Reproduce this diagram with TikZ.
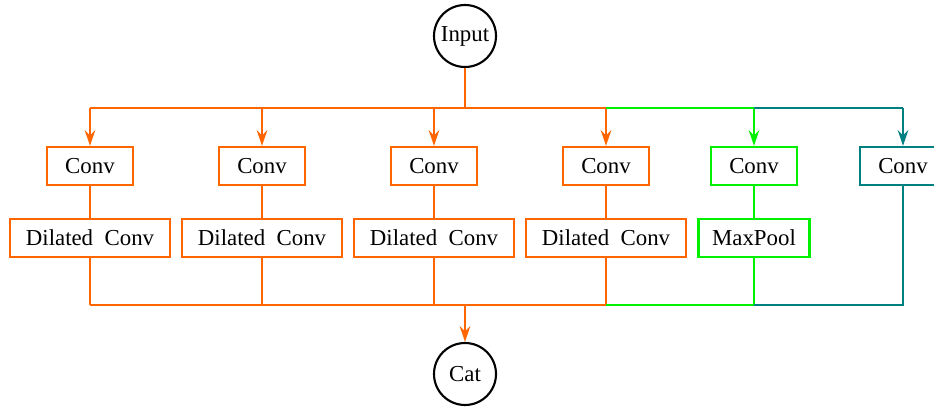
\documentclass[tikz,border=0pt]{standalone}
\usepackage{fontspec}
\setmainfont{Liberation Serif}
\usetikzlibrary{arrows.meta}

\definecolor{branchA}{RGB}{255,102,0}
\definecolor{branchB}{RGB}{0,240,0}
\definecolor{branchC}{RGB}{0,128,128}

\begin{document}
\begin{tikzpicture}[>={Stealth[length=9pt,width=6pt,inset=3pt]},
  every node/.style={font=\fontsize{13}{15}\selectfont},
  lay/.style={draw,line width=1.2pt,minimum height=0.76cm,inner sep=2pt},
  io/.style={draw,circle,line width=1.2pt,minimum size=1.24cm,inner sep=0pt},
  wire/.style={line width=1.2pt}]
\useasboundingbox (0,0) rectangle (18.68,8.2);

\node[io] (in) at (9.3,7.48) {Input};
\node[io] (cat) at (9.3,0.72) {Cat};

\coordinate (top) at (9.3,6.04);
\coordinate (bot) at (9.3,2.1);

\node[lay,branchA,minimum width=1.72cm,text=black] (c1) at (1.8,4.88) {Conv};
\node[lay,branchA,minimum width=1.72cm,text=black] (c2) at (5.24,4.88) {Conv};
\node[lay,branchA,minimum width=1.72cm,text=black] (c3) at (8.68,4.88) {Conv};
\node[lay,branchA,minimum width=1.72cm,text=black] (c4) at (12.12,4.88) {Conv};
\node[lay,branchB,minimum width=1.72cm,text=black] (c5) at (15.08,4.88) {Conv};
\node[lay,branchC,minimum width=1.72cm,text=black] (c6) at (18.06,4.88) {Conv};

\node[lay,branchA,minimum width=3.2cm,text=black] (d1) at (1.8,3.44) {Dilated~~Conv};
\node[lay,branchA,minimum width=3.2cm,text=black] (d2) at (5.24,3.44) {Dilated~~Conv};
\node[lay,branchA,minimum width=3.2cm,text=black] (d3) at (8.68,3.44) {Dilated~~Conv};
\node[lay,branchA,minimum width=3.2cm,text=black] (d4) at (12.12,3.44) {Dilated~~Conv};
\node[lay,branchB,minimum width=2.22cm,text=black] (mp) at (15.08,3.44) {MaxPool};

% fan out
\draw[wire,branchA] (in) -- (top);
\draw[wire,branchA] (c1 |- top) -- (c4 |- top);
\foreach \c in {c1,c2,c3,c4}
  \draw[wire,branchA,->] (\c |- top) -- (\c);
\draw[wire,branchB] (c4 |- top) -- (c5 |- top);
\draw[wire,branchB,->] (c5 |- top) -- (c5);
\draw[wire,branchC] (c5 |- top) -- (c6 |- top);
\draw[wire,branchC,->] (c6 |- top) -- (c6);

% branches
\foreach \i in {1,...,4}
  \draw[wire,branchA] (c\i) -- (d\i);
\draw[wire,branchB] (c5) -- (mp);

% merge
\foreach \d in {d1,d2,d3,d4}
  \draw[wire,branchA] (\d) -- (\d |- bot);
\draw[wire,branchA] (d1 |- bot) -- (d4 |- bot);
\draw[wire,branchB] (mp) -- (mp |- bot) -- (d4 |- bot);
\draw[wire,branchC] (c6) -- (c6 |- bot) -- (mp |- bot);
\draw[wire,branchA,->] (bot) -- (cat);
\end{tikzpicture}
\end{document}
